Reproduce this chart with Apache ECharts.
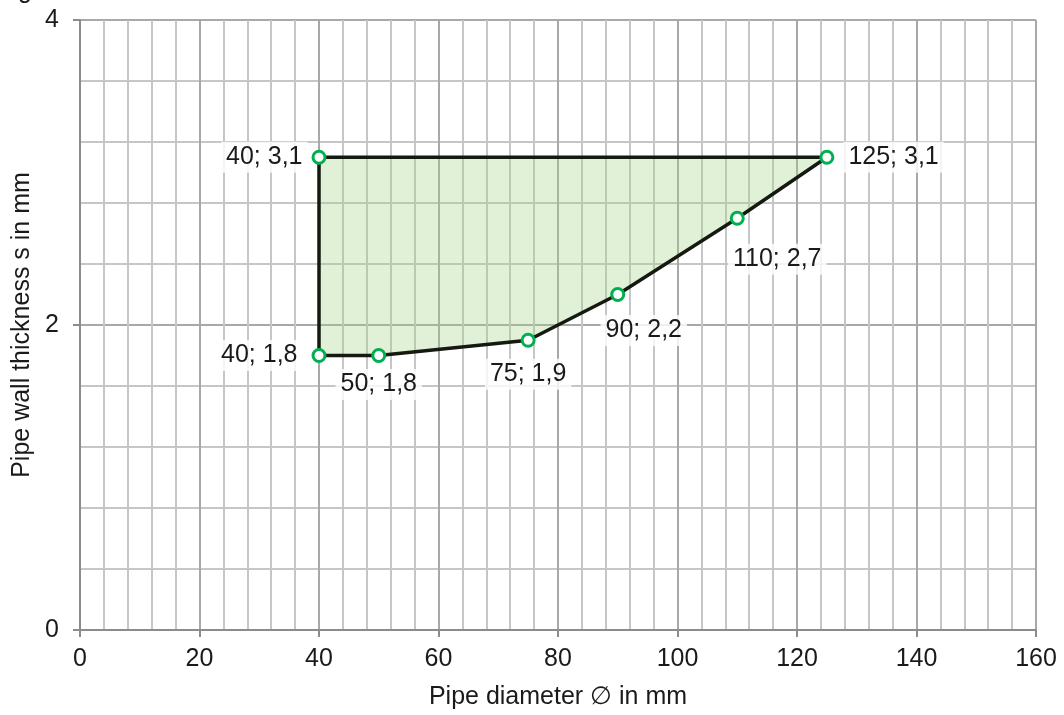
<!DOCTYPE html>
<html>
<head>
<meta charset="utf-8">
<script src="https://cdn.jsdelivr.net/npm/echarts@6/dist/echarts.min.js"></script>
<style>html,body{margin:0;padding:0;background:#fff}#c{width:1064px;height:715px}</style>
</head>
<body>
<div id="c"></div>
<script>
// Data (pipe diameter in mm, wall thickness in mm), polygon order
const diameters = [40, 125, 110, 90, 75, 50, 40];
const thickness = [3.1, 3.1, 2.7, 2.2, 1.9, 1.8, 1.8];
const xTitle = 'Pipe diameter \u2205 in mm';
const yTitle = 'Pipe wall thickness s in mm';

// label placement per point (style, not data)
const labelPlacement = [
  {position: 'left', distance: 4},
  {position: 'right', distance: 9},
  {position: 'bottom', distance: 18, offset: [40, 0]},
  {position: 'bottom', distance: 13, offset: [26, 0]},
  {position: 'bottom', distance: 11, offset: [0, 0]},
  {position: 'bottom', distance: 6, offset: [0, 0]},
  {position: 'left', distance: 9}
];

const FONT = 'Arial, "Liberation Sans", sans-serif';
const FS = 25;
const fmt = (x, y) => x + '; ' + String(y).replace('.', ',');

const chart = echarts.init(document.getElementById('c'));
const points = diameters.map((x, i) => [x, thickness[i]]);

chart.setOption({
  animation: false,
  backgroundColor: '#fff',
  textStyle: {fontFamily: FONT},
  grid: {left: 80, right: 28, top: 20, bottom: 85},
  graphic: [{
    type: 'text', left: 18, top: -21,
    style: {text: 'g', font: FS + 'px ' + FONT, fill: '#1a1a1a'}
  }],
  xAxis: {
    type: 'value', min: 0, max: 160, interval: 20,
    name: xTitle, nameLocation: 'middle', nameGap: 55,
    nameTextStyle: {fontSize: FS, color: '#1a1a1a', fontFamily: FONT},
    axisLine: {show: true, lineStyle: {color: '#8c8c8c', width: 2}},
    axisTick: {show: true, length: 7, lineStyle: {color: '#8c8c8c', width: 2}},
    axisLabel: {fontSize: FS, color: '#1a1a1a', margin: 17, fontFamily: FONT},
    splitLine: {show: true, lineStyle: {color: '#a8a8a8', width: 2}},
    minorTick: {show: false, splitNumber: 5},
    minorSplitLine: {show: true, lineStyle: {color: '#c6c6c6', width: 2}}
  },
  yAxis: {
    type: 'value', min: 0, max: 4, interval: 2,
    name: yTitle, nameLocation: 'middle', nameGap: 43,
    nameTextStyle: {fontSize: FS, color: '#1a1a1a', fontFamily: FONT},
    axisLine: {show: true, lineStyle: {color: '#8c8c8c', width: 2}},
    axisTick: {show: true, length: 7, lineStyle: {color: '#8c8c8c', width: 2}},
    axisLabel: {fontSize: FS, color: '#1a1a1a', margin: 21, fontFamily: FONT},
    splitLine: {show: true, lineStyle: {color: '#a8a8a8', width: 2}},
    minorTick: {show: false, splitNumber: 5},
    minorSplitLine: {show: true, lineStyle: {color: '#c6c6c6', width: 2}}
  },
  series: [
    {
      type: 'custom',
      data: [0],
      z: 2,
      renderItem: function (params, api) {
        const pts = diameters.map((x, i) => api.coord([x, thickness[i]]));
        return {
          type: 'polygon',
          shape: {points: pts},
          style: {
            fill: 'rgba(160,210,130,0.32)',
            stroke: '#141a10',
            lineWidth: 3.5,
            lineJoin: 'round'
          }
        };
      }
    },
    {
      type: 'scatter',
      z: 5,
      symbol: 'circle',
      symbolSize: 12,
      itemStyle: {color: '#ffffff', borderColor: '#00b050', borderWidth: 3, opacity: 1},
      data: points.map((p, i) => ({
        value: p,
        label: Object.assign({
          show: true,
          formatter: fmt(p[0], p[1]),
          fontSize: FS,
          color: '#1a1a1a',
          fontFamily: FONT,
          backgroundColor: 'rgba(255,255,255,0.8)',
          padding: [3, 5]
        }, labelPlacement[i])
      })),
      emphasis: {disabled: true}
    }
  ]
});
</script>
</body>
</html>
